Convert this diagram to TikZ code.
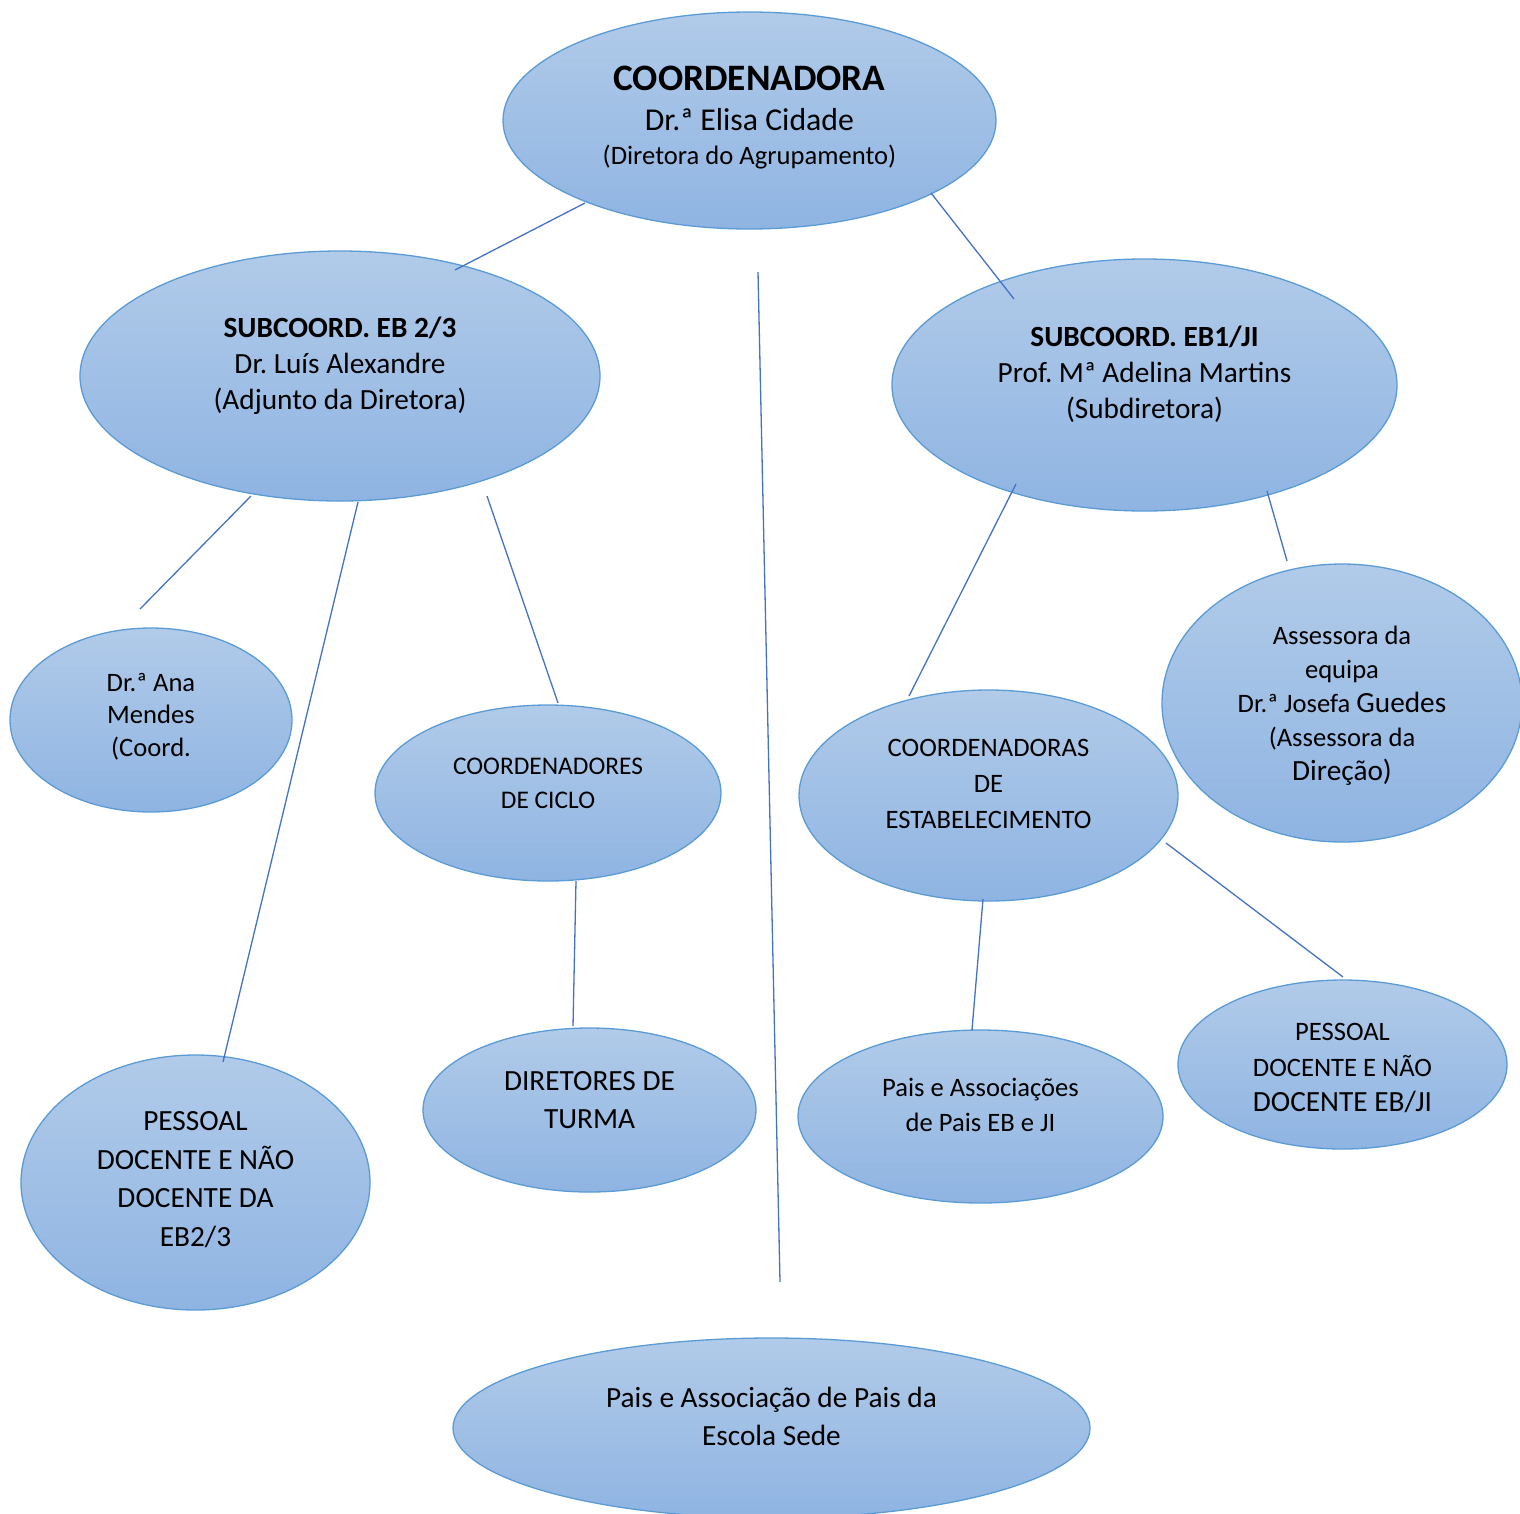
\documentclass[tikz,border=0pt]{standalone}
\usepackage{fontspec}
\setmainfont{Carlito}
\usepackage{xcolor}
\usepackage{tikz}
\usetikzlibrary{shapes.geometric, calc}
\frenchspacing

\definecolor{bubbleTop}{HTML}{B1CBE9}
\definecolor{bubbleBot}{HTML}{8FB4E2}
\definecolor{bubbleEdge}{HTML}{5B9BD5}
\definecolor{linkBlue}{HTML}{4472C4}

\newcommand{\ptXIV}{\fontsize{37.3}{43}\selectfont}
\newcommand{\ptXII}{\fontsize{31.8}{37}\selectfont}
\newcommand{\ptXI}{\fontsize{29.3}{36}\selectfont}

\begin{document}
\begin{tikzpicture}[
    x=1pt, y=-1pt,
    bubble/.style={ellipse, draw=bubbleEdge, line width=1.3pt, top color=bubbleTop, bottom color=bubbleBot, inner sep=0pt},
    txt/.style={align=center, inner sep=0pt, text=black},
    link/.style={draw=linkBlue, line width=1.3pt}
]
    \useasboundingbox (0,0) rectangle (1520,1513);

    % Direction
    \node [bubble, minimum width=493pt, minimum height=217pt,
        label={[txt, font=\fontsize{26.6}{34}\selectfont, yshift=2.5pt]center:{{\ptXIV\bfseries COORDENADORA}\\[6pt]{\ptXII Dr.ª Elisa Cidade}\\(Diretora do Agrupamento)}}] (coord) at (749.5,120.5) {};

    % Subcoordinators
    \node [bubble, minimum width=520pt, minimum height=250pt,
        label={[txt, font=\ptXI, yshift=10pt]center:{\textbf{SUBCOORD. EB 2/3}\\Dr. Luís Alexandre\\(Adjunto da Diretora)}}] (sub23) at (340,376) {};
    \node [bubble, minimum width=505pt, minimum height=252pt,
        label={[txt, font=\ptXI, yshift=11pt]center:{\textbf{SUBCOORD. EB1/JI}\\Prof. Mª Adelina Martins\\(Subdiretora)}}] (subEB1) at (1144.5,385) {};

    % EB 2/3 branch
    \node [bubble, minimum width=282pt, minimum height=184pt,
        label={[txt, font=\fontsize{26.6}{32.5}\selectfont, yshift=3.5pt]center:{Dr.ª Ana\\Mendes\\(Coord.}}] (ana) at (151,720) {};
    \node [bubble, minimum width=346pt, minimum height=176pt,
        label={[txt, font=\fontsize{25.4}{34}\selectfont, yshift=10pt]center:{COORDENADORES\\DE CICLO}}] (ciclo) at (548,793) {};
    \node [bubble, minimum width=333pt, minimum height=164pt,
        label={[txt, font=\fontsize{29.3}{38}\selectfont, yshift=10pt]center:{DIRETORES DE\\TURMA}}] (turma) at (589.5,1110) {};
    \node [bubble, minimum width=349pt, minimum height=255pt,
        label={[txt, font=\fontsize{29.3}{38.7}\selectfont, yshift=3pt]center:{PESSOAL\\DOCENTE E NÃO\\DOCENTE DA\\EB2/3}}] (pessoal23) at (195.5,1182.5) {};

    % EB1/JI branch
    \node [bubble, minimum width=379pt, minimum height=211pt,
        label={[txt, font=\fontsize{26.6}{36}\selectfont, yshift=12pt]center:{COORDENADORAS\\DE\\ESTABELECIMENTO}}] (estab) at (988.5,795.5) {};
    \node [bubble, minimum width=360pt, minimum height=278pt,
        label={[txt, font=\fontsize{26.6}{34}\selectfont, yshift=-3pt]center:{Assessora da\\equipa\\Dr.ª Josefa {\ptXI Guedes}\\(Assessora da\\{\ptXI Direção)}}}] (assess) at (1342,703) {};
    \node [bubble, minimum width=365pt, minimum height=173pt,
        label={[txt, font=\fontsize{26.6}{35}\selectfont, yshift=12pt]center:{Pais e Associações\\de Pais EB e JI}}] (paisEB) at (980.5,1116.5) {};
    \node [bubble, minimum width=329pt, minimum height=169pt,
        label={[txt, font=\fontsize{26.6}{35.5}\selectfont, yshift=-3.5pt]center:{PESSOAL\\DOCENTE E NÃO\\{\ptXI DOCENTE EB/JI}}}] (pessoalEB) at (1342.5,1064.5) {};

    % Parents of the main school
    \node [bubble, minimum width=637pt, minimum height=180pt,
        label={[txt, font=\fontsize{29.3}{38}\selectfont, yshift=12pt]center:{Pais e Associação de Pais da\\Escola Sede}}] (sede) at (771.5,1428) {};

    % Free vertical line
    \coordinate (axisTop) at (758,272);
    \coordinate (axisBot) at (780,1282);
    \draw [link] (axisTop) -- (axisBot);

    % Direction to subcoordinators
    \draw [link] ($(coord)+(-164.5,82.5)$) -- ($(sub23)+(115,-106)$);
    \draw [link] ($(coord)+(181.5,72.5)$) -- ($(subEB1)+(-130.5,-86)$);

    % EB 2/3 links
    \draw [link] ($(sub23)+(-89,120)$) -- ($(ana)+(-11,-111)$);
    \draw [link] ($(sub23)+(18,126)$) -- ($(pessoal23)+(27.5,-120.5)$);
    \draw [link] ($(sub23)+(147,120)$) -- ($(ciclo)+(10,-90)$);
    \draw [link] ($(ciclo)+(28,88)$) -- ($(turma)+(-16.5,-84)$);

    % EB1/JI links
    \draw [link] ($(subEB1)+(-128.5,99)$) -- ($(estab)+(-79.5,-99.5)$);
    \draw [link] ($(subEB1)+(122.5,106)$) -- ($(assess)+(-55,-142)$);
    \draw [link] ($(estab)+(-5.5,103.5)$) -- ($(paisEB)+(-8.5,-86.5)$);
    \draw [link] ($(estab)+(177.5,47.5)$) -- ($(pessoalEB)+(0.5,-87.5)$);
\end{tikzpicture}
\end{document}
